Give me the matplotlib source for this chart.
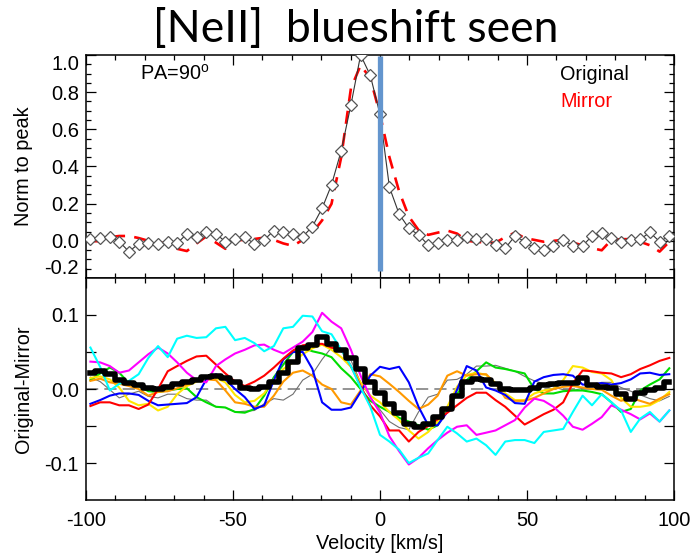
import matplotlib
matplotlib.use("Agg")
import matplotlib.pyplot as plt
from matplotlib.ticker import MultipleLocator

plt.rcParams['font.family'] = ['Liberation Sans', 'DejaVu Sans']
plt.rcParams['mathtext.fontset'] = 'custom'
plt.rcParams['mathtext.rm'] = 'Liberation Sans'

# velocity grid (km/s)
VELOCITY = [-98.5, -95.2, -91.9, -88.7, -85.4, -82.1, -78.8, -75.5, -72.2, -69.0,
            -65.7, -62.4, -59.1, -55.8, -52.6, -49.3, -46.0, -42.7, -39.4, -36.1,
            -32.9, -29.6, -26.3, -23.0, -19.7, -16.5, -13.2, -9.9, -6.6, -3.3,
            0.0, 3.2, 6.5, 9.8, 13.1, 16.4, 19.6, 22.9, 26.2, 29.5,
            32.8, 36.1, 39.3, 42.6, 45.9, 49.2, 52.5, 55.7, 59.0, 62.3,
            65.6, 68.9, 72.1, 75.4, 78.7, 82.0, 85.3, 88.5, 91.8, 95.1, 98.4]

# top panel: normalised line profile and its mirror
ORIGINAL = [0.009, 0.015, 0.022, -0.004, -0.058, -0.016, -0.013, -0.016, -0.004, -0.013,
            0.037, 0.02, 0.05, 0.037, -0.004, 0.009, 0.02, -0.016, 0.005, 0.055,
            0.05, 0.037, 0.022, 0.077, 0.175, 0.301, 0.485, 0.731, 1.0, 0.89,
            0.68, 0.289, 0.144, 0.068, 0.032, -0.022, -0.01, 0.005, 0.005, 0.023,
            0.009, 0.009, -0.022, -0.04, 0.026, -0.004, -0.04, -0.052, -0.027, 0.005,
            -0.027, -0.027, 0.026, 0.041, 0.014, -0.004, 0.005, 0.009, 0.045, -0.004, 0.026]
MIRROR = [0.0, -0.003, 0.02, 0.026, 0.026, 0.015, 0.0, -0.01, -0.012, -0.043,
          -0.055, -0.014, 0.024, -0.01, -0.043, 0.003, 0.005, 0.01, 0.017, 0.005,
          -0.014, -0.027, 0.005, 0.044, 0.11, 0.199, 0.45, 0.82, 0.945, 0.875,
          0.68, 0.45, 0.266, 0.131, 0.058, 0.032, 0.044, 0.055, 0.039, 0.0,
          -0.005, -0.01, -0.01, 0.02, 0.044, 0.015, 0.005, -0.005, 0.0, 0.005,
          -0.01, -0.024, -0.039, -0.051, 0.005, 0.009, 0.009, -0.005, -0.024, -0.058, -0.005]
MARK_V = 0.0
MARK_SPAN = (-0.163, 0.996)

# bottom panel: original - mirror for several cuts, plus their mean
DIFF_GRAY = [0.016, 0.01, -0.001, -0.012, -0.007, -0.003, -0.01, -0.012, -0.007, -0.007,
             -0.013, -0.015, -0.015, -0.024, -0.025, -0.031, -0.03, -0.029, -0.02, -0.013,
             -0.015, -0.007, 0.012, 0.02, 0.04, 0.056, 0.051, 0.039, 0.009, -0.011,
             -0.028, -0.044, -0.052, -0.055, -0.031, -0.011, -0.007, 0.012, 0.013, 0.02,
             0.031, 0.031, 0.032, 0.028, 0.024, 0.017, 0.011, 0.007, 0.003, -0.001,
             -0.002, 0.001, 0.006, 0.009, 0.009, 0.002, -0.003, -0.008, -0.013, -0.016, -0.01]
DIFF_GREEN = [0.012, 0.021, 0.029, 0.022, 0.008, 0.004, -0.003, -0.004, -0.002, 0.0,
              0.001, -0.011, -0.018, -0.024, -0.025, -0.031, -0.032, -0.027, -0.009, 0.016,
              0.033, 0.05, 0.056, 0.051, 0.048, 0.043, 0.028, 0.016, 0.0, -0.016,
              -0.024, -0.031, -0.039, -0.044, -0.049, -0.055, -0.049, -0.027, -0.007, 0.012,
              0.024, 0.036, 0.029, 0.027, 0.024, 0.021, 0.0, -0.006, -0.006, -0.003,
              -0.002, -0.002, -0.004, -0.007, -0.018, -0.031, -0.027, -0.002, 0.006, 0.013, 0.028]
DIFF_YELLOW = [0.015, 0.017, 0.013, 0.002, -0.016, -0.022, -0.02, -0.029, -0.024, -0.007,
               0.004, 0.01, 0.013, 0.015, 0.009, -0.008, -0.018, -0.016, -0.006, 0.013,
               0.027, 0.036, 0.047, 0.055, 0.06, 0.053, 0.043, 0.03, 0.009, -0.009,
               -0.018, -0.031, -0.042, -0.056, -0.067, -0.058, -0.044, -0.024, 0.003, 0.019,
               0.022, 0.019, 0.008, -0.006, -0.015, -0.015, -0.006, -0.002, 0.0, 0.012,
               0.031, 0.029, 0.023, 0.021, 0.012, -0.012, -0.024, -0.024, -0.022, -0.015, -0.004]
DIFF_ORANGE = [0.011, 0.014, 0.009, 0.007, 0.004, 0.0, -0.009, -0.004, -0.003, 0.001,
               0.006, 0.011, 0.013, 0.012, -0.002, -0.018, -0.02, -0.024, -0.024, -0.009,
               0.01, 0.022, 0.025, 0.018, 0.006, 0.0, -0.018, -0.021, -0.002, 0.02,
               0.017, 0.007, -0.004, -0.016, -0.027, -0.021, -0.009, 0.018, 0.024, 0.018,
               0.02, 0.02, 0.007, -0.012, -0.016, -0.016, -0.012, -0.006, 0.0, 0.003,
               0.004, 0.002, 0.0, -0.001, -0.009, -0.016, -0.012, -0.016, -0.02, -0.013, -0.007]
DIFF_BLUE = [-0.02, -0.015, -0.009, -0.006, -0.006, -0.008, -0.016, -0.022, -0.021, -0.02,
             -0.019, -0.011, 0.013, 0.02, 0.013, 0.0, -0.011, -0.027, -0.022, 0.012,
             0.04, 0.05, 0.05, 0.027, -0.018, -0.028, -0.028, -0.025, -0.004, 0.018,
             0.03, 0.027, 0.03, 0.009, -0.024, -0.049, -0.049, -0.031, -0.001, 0.031,
             0.025, 0.002, -0.002, -0.008, -0.019, -0.02, 0.01, 0.016, 0.019, 0.02,
             0.018, 0.006, 0.006, 0.008, 0.006, 0.008, 0.013, 0.021, 0.022, 0.019, 0.02]
DIFF_RED = [-0.023, -0.018, -0.018, -0.022, -0.022, -0.027, -0.021, 0.0, 0.024, 0.031,
            0.038, 0.044, 0.045, 0.033, 0.021, 0.01, 0.004, 0.01, 0.018, 0.029,
            0.041, 0.052, 0.059, 0.061, 0.061, 0.056, 0.053, 0.031, 0.004, -0.022,
            -0.037, -0.056, -0.056, -0.071, -0.058, -0.05, -0.041, -0.032, -0.022, -0.012,
            -0.005, -0.005, -0.015, -0.024, -0.036, -0.048, -0.041, -0.034, -0.028, -0.018,
            0.008, 0.025, 0.024, 0.022, 0.021, 0.016, 0.02, 0.027, 0.032, 0.038, 0.042]
DIFF_MAGENTA = [0.037, 0.036, 0.031, 0.022, 0.025, 0.036, 0.047, 0.056, 0.048, 0.036,
                0.022, 0.012, 0.009, 0.031, 0.04, 0.048, 0.053, 0.059, 0.06, 0.053,
                0.048, 0.056, 0.064, 0.077, 0.103, 0.091, 0.082, 0.053, 0.018, -0.011,
                -0.032, -0.064, -0.084, -0.102, -0.093, -0.08, -0.069, -0.059, -0.051, -0.049,
                -0.062, -0.059, -0.056, -0.049, -0.042, -0.025, -0.013, -0.016, -0.024, -0.036,
                -0.051, -0.055, -0.047, -0.038, -0.022, -0.028, -0.034, -0.041, -0.033, -0.044, -0.029]
DIFF_CYAN = [0.056, 0.03, -0.002, 0.007, 0.011, 0.02, 0.042, 0.058, 0.043, 0.068,
             0.072, 0.069, 0.07, 0.082, 0.084, 0.066, 0.069, 0.062, 0.051, 0.058,
             0.082, 0.084, 0.099, 0.098, 0.078, 0.074, 0.053, 0.031, 0.002, -0.024,
             -0.062, -0.071, -0.082, -0.1, -0.093, -0.087, -0.069, -0.051, -0.06, -0.071,
             -0.067, -0.076, -0.089, -0.071, -0.069, -0.069, -0.073, -0.058, -0.056, -0.054,
             -0.031, -0.009, -0.022, -0.007, -0.018, -0.029, -0.058, -0.04, -0.031, -0.044, -0.029]
DIFF_MEAN = [0.022, 0.024, 0.02, 0.012, 0.008, 0.006, 0.001, 0.0, 0.003, 0.007,
             0.009, 0.012, 0.016, 0.018, 0.015, 0.01, 0.002, 0.0, 0.003, 0.009,
             0.022, 0.036, 0.056, 0.06, 0.07, 0.061, 0.053, 0.042, 0.027, 0.009,
             -0.006, -0.02, -0.033, -0.047, -0.052, -0.047, -0.038, -0.027, -0.009, 0.009,
             0.013, 0.012, 0.007, 0.0, -0.002, -0.002, 0.001, 0.006, 0.007, 0.008,
             0.008, 0.015, 0.006, 0.003, 0.001, -0.007, -0.013, -0.006, -0.002, 0.002, 0.01]

diff_series = [
    (DIFF_GRAY, '#707070', 0.8),
    (DIFF_GREEN, '#00dd00', 1.5),
    (DIFF_YELLOW, '#ffe600', 1.5),
    (DIFF_ORANGE, '#ff9900', 1.5),
    (DIFF_BLUE, '#0000ff', 1.5),
    (DIFF_RED, '#ff0000', 1.5),
    (DIFF_MAGENTA, '#ff00ff', 1.5),
    (DIFF_CYAN, '#00ffff', 1.5),
]


def style_axis(ax):
    ax.set_xlim(-100, 100)
    ax.xaxis.set_major_locator(MultipleLocator(50))
    ax.xaxis.set_minor_locator(MultipleLocator(10))
    ax.tick_params(which='both', direction='in', top=True, right=True,
                   width=0.9, labelsize=14.5, pad=5)
    ax.tick_params(which='major', length=7.5)
    ax.tick_params(which='minor', length=3.6)
    for sp in ax.spines.values():
        sp.set_linewidth(1.1)


fig = plt.figure(figsize=(6.92, 5.59), dpi=100)
ax1 = fig.add_axes([0.1243, 0.5027, 0.8497, 0.3989])
ax2 = fig.add_axes([0.1243, 0.1055, 0.8497, 0.3972])

# upper panel
ax1.plot(VELOCITY, MIRROR, color='#ff0000', lw=1.9, dashes=(5, 3.5), zorder=2)
ax1.plot(VELOCITY, ORIGINAL, color='#333333', lw=0.8, marker='D', ms=6,
         mfc='white', mec='#555555', mew=0.9, zorder=3)
ax1.plot([MARK_V, MARK_V], MARK_SPAN, color='#6395ce', lw=3.8,
         solid_capstyle='butt', zorder=4)
style_axis(ax1)
ax1.set_ylim(-0.2, 1.0)
ax1.yaxis.set_minor_locator(MultipleLocator(0.05))
ax1.set_yticks([-0.2, 0.0, 0.2, 0.4, 0.6, 0.8, 1.0])
labels = ax1.set_yticklabels(['-0.2', '0.0', '0.2', '0.4', '0.6', '0.8', '1.0'])
labels[0].set_va('bottom')
labels[-1].set_va('top')
ax1.tick_params(axis='x', labelbottom=False)
ax1.set_ylabel('Norm to peak', fontsize=14.3)
ax1.yaxis.set_label_coords(-0.09, 0.5)
ax1.text(0.092, 0.888, r'PA=90$^{\mathrm{o}}$', transform=ax1.transAxes,
         fontsize=14.3, va='baseline')
ax1.text(0.806, 0.888, 'Original', transform=ax1.transAxes, fontsize=14.3,
         va='baseline', color='black')
ax1.text(0.806, 0.767, 'Mirror', transform=ax1.transAxes, fontsize=14.3,
         va='baseline', color='#ff0000')

# lower panel
ax2.axhline(0.0, color='#777777', lw=1.1, dashes=(8, 4), zorder=1)
for vals, col, lw in diff_series:
    ax2.plot(VELOCITY, vals, color=col, lw=lw, zorder=2)
ax2.step(VELOCITY, DIFF_MEAN, where='mid', color='black', lw=4.0, zorder=3)
style_axis(ax2)
ax2.set_ylim(-0.15, 0.15)
ax2.set_yticks([-0.1, -0.05, 0.0, 0.05, 0.1])
ax2.set_yticklabels(['-0.1', '', '0.0', '', '0.1'])
ax2.set_xticks([-100, -50, 0, 50, 100])
ax2.set_xticklabels(['-100', '-50', '0', '50', '100'])
ax2.tick_params(axis='x', pad=8)
ax2.set_ylabel('Original-Mirror', fontsize=14.3)
ax2.yaxis.set_label_coords(-0.09, 0.5)
ax2.set_xlabel('Velocity [km/s]', fontsize=14.3)
ax2.xaxis.set_label_coords(0.5, -0.155)

fig.text(0.514, 0.925, '[NeII]  blueshift seen', fontsize=32,
         family=['Lato', 'DejaVu Sans'], ha='center', va='baseline')

fig.savefig('out.png', dpi=100)
